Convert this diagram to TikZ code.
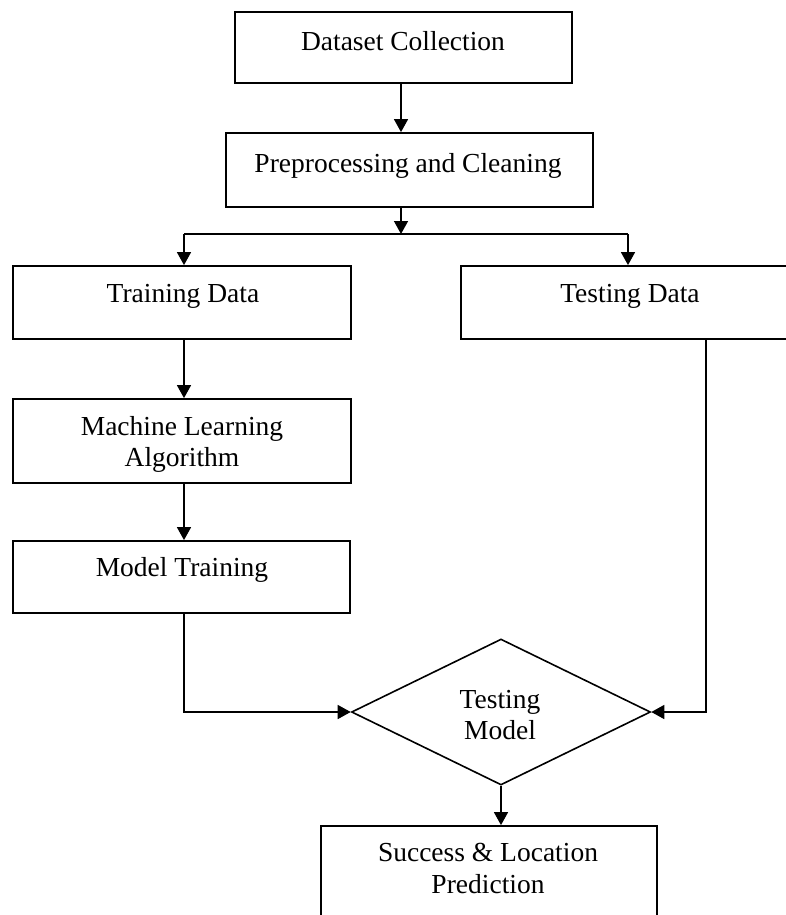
\documentclass[tikz,border=0pt]{standalone}
\usepackage{fontspec}
\setmainfont{Liberation Serif}
\usetikzlibrary{arrows.meta,shapes.geometric}
\begin{document}
\begin{tikzpicture}[x=1pt,y=-1pt,
  box/.style={draw, line width=1.8pt, rectangle, inner sep=0pt},
  dia/.style={draw, line width=1.6pt, diamond, inner sep=0pt},
  lbl/.style={anchor=base, inner sep=0pt, align=center, font=\fontsize{27.5}{31}\selectfont},
  conn/.style={line width=1.5pt},
  arr/.style={conn, -{Triangle[length=13pt,width=14pt]}}]
\useasboundingbox (0,0) rectangle (786,915);

% boxes
\node[box, minimum width=337pt, minimum height=71pt] (ds) at (403.5,47.5) {};
\node[box, minimum width=367pt, minimum height=74pt] (prep) at (409.5,170) {};
\node[box, minimum width=338pt, minimum height=73pt] (train) at (182,302.5) {};
\node[box, minimum width=338pt, minimum height=73pt] (test) at (630,302.5) {};
\node[box, minimum width=338pt, minimum height=84pt] (ml) at (182,441) {};
\node[box, minimum width=337pt, minimum height=72pt] (mt) at (181.5,577) {};
\node[dia, minimum width=299pt, minimum height=146pt] (tm) at (501,712) {};
\node[box, minimum width=336pt, minimum height=100pt] (succ) at (489,876) {};

% labels
\node[lbl] (dsl) at (403,51) {Dataset Collection};
\node[lbl] (prepl) at (408,172) {Preprocessing and Cleaning};
\node[lbl] (trainl) at (183,302) {Training Data};
\node[lbl] (testl) at (630,302) {Testing Data};
\node[lbl] (mll1) at (182,435) {Machine Learning};
\node[lbl] (mll2) at (182,466) {Algorithm};
\node[lbl] (mtl) at (182,576) {Model Training};
\node[lbl] (tml1) at (500,708) {Testing};
\node[lbl] (tml2) at (500,739) {Model};
\node[lbl] (succl1) at (488,861) {Success \& Location};
\node[lbl] (succl2) at (488,893) {Prediction};

% helper coordinates
\coordinate (spine) at (401,234);
\coordinate (sl) at (184,234);
\coordinate (sr) at (628,234);
\coordinate (tl) at (184,712);
\coordinate (tr) at (706,712);

% connectors
\draw[arr] (spine |- ds.south) -- (spine |- prep.north);
\draw[arr] (spine |- prep.south) -- (spine);
\draw[conn] (sl) -- (sr);
\draw[arr] (sl) -- (sl |- train.north);
\draw[arr] (sr) -- (sr |- test.north);
\draw[arr] (sl |- train.south) -- (sl |- ml.north);
\draw[arr] (sl |- ml.south) -- (sl |- mt.north);
\draw[arr] (tl |- mt.south) -- (tl) -- (tm.west);
\draw[arr] (tr |- test.south) -- (tr) -- (tm.east);
\draw[arr] (tm.south) -- (tm.south |- succ.north);
\end{tikzpicture}
\end{document}
